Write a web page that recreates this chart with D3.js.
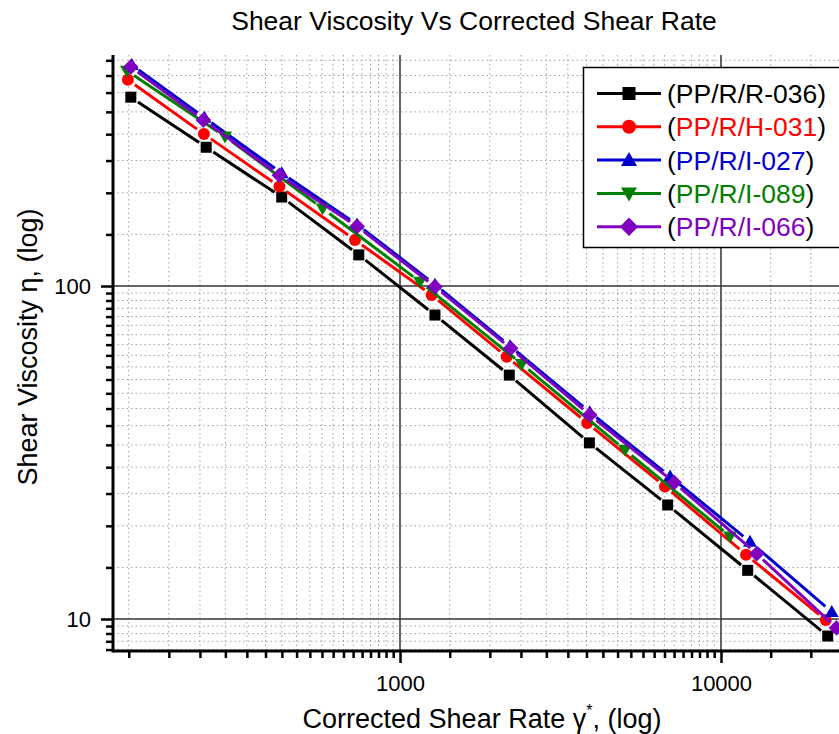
<!DOCTYPE html>
<html>
<head>
<meta charset="utf-8">
<script src="https://cdn.jsdelivr.net/npm/d3@7"></script>
<style>
  html, body { margin: 0; padding: 0; background: #fff; }
  svg { display: block; font-family: "Liberation Sans", Arial, sans-serif; }
</style>
</head>
<body>
<svg id="chart" width="839" height="734"></svg>
<script>
// ---------------- DATA ----------------
const seriesNames = ["PP/R/R-036", "PP/R/H-031", "PP/R/I-027", "PP/R/I-089", "PP/R/I-066"];
const seriesColors = ["#000000", "#ff0000", "#0000cc", "#008000", "#7f00c0"];
const seriesSymbols = ["square", "circle", "triangleUp", "triangleDown", "diamond"];

const xR036 = [145, 249, 428, 744, 1285, 2190, 3890, 6820, 12110, 21500];
const yR036 = [369, 261, 185, 124, 81.8, 54.0, 33.8, 22.0, 14.0, 8.89];

const xH031 = [142, 245, 421, 724, 1255, 2150, 3830, 6690, 11970, 21200];
const yH031 = [416, 286, 199, 137.5, 94.0, 61.3, 38.8, 25.0, 15.6, 9.93];

const xI027 = [146, 246, 428, 735, 1285, 2200, 3900, 6940, 12310, 22130];
const yI027 = [461, 320, 218, 153, 101, 66.0, 41.8, 26.8, 17.06, 10.5];

const xI089 = [141, 285, 574, 1154, 2394, 5023, 10670];
const yI089 = [443, 281, 171, 103, 58.3, 32.2, 17.7];

const xI066 = [145, 244, 421, 735, 1285, 2212, 3900, 7150, 12920, 22900];
const yI066 = [455, 315, 215, 151, 99.5, 65.0, 41.0, 25.7, 15.7, 9.4];

const xMajorTicks = [1000, 10000];
const yMajorTicks = [10, 100];
const minorSteps = d3.range(3, 21); // minor ticks at k/21 of the next decade

const xDomain = [127.6, 25230];
const yDomain = [8.015, 494];

const titleText = "Shear Viscosity Vs Corrected Shear Rate";
// ---------------------------------------

const seriesX = [xR036, xH031, xI027, xI089, xI066];
const seriesY = [yR036, yH031, yI027, yI089, yI066];

const svg = d3.select("#chart");
const L = 113, R = 850, T = 55, B = 651;

const x = d3.scaleLog().domain(xDomain).range([L, R]);
const y = d3.scaleLog().domain(yDomain).range([B, T]);

function minorTicks(domain) {
  const out = [];
  const lo = Math.floor(Math.log10(domain[0])), hi = Math.ceil(Math.log10(domain[1]));
  for (let n = lo; n <= hi; n++) {
    const top = Math.pow(10, n + 1);
    minorSteps.forEach(k => {
      const v = top * k / 21;
      if (v > domain[0] && v < domain[1]) out.push(v);
    });
  }
  return out;
}
const xMinor = minorTicks(xDomain);
const yMinor = minorTicks(yDomain);

svg.append("defs").append("clipPath").attr("id", "plotclip")
  .append("rect").attr("x", L).attr("y", T).attr("width", R - L).attr("height", B - T);

// grid
const grid = svg.append("g");
grid.selectAll(".vminor").data(xMinor).enter().append("line")
  .attr("x1", d => x(d)).attr("x2", d => x(d)).attr("y1", T).attr("y2", B)
  .attr("stroke", "#a0a0a0").attr("stroke-width", 1).attr("stroke-dasharray", "1.5,3");
grid.selectAll(".hminor").data(yMinor).enter().append("line")
  .attr("y1", d => y(d)).attr("y2", d => y(d)).attr("x1", L).attr("x2", R)
  .attr("stroke", "#a0a0a0").attr("stroke-width", 1).attr("stroke-dasharray", "1.5,3");
grid.selectAll(".vmajor").data(xMajorTicks).enter().append("line")
  .attr("x1", d => x(d)).attr("x2", d => x(d)).attr("y1", T).attr("y2", B)
  .attr("stroke", "#333").attr("stroke-width", 1.5);
grid.selectAll(".hmajor").data(yMajorTicks).enter().append("line")
  .attr("y1", d => y(d)).attr("y2", d => y(d)).attr("x1", L).attr("x2", R)
  .attr("stroke", "#333").attr("stroke-width", 1.5);

// axes
const xAxis = d3.axisBottom(x).tickValues(xMajorTicks).tickFormat(d3.format("d")).tickSize(12).tickPadding(12);
const xAxisMinor = d3.axisBottom(x).tickValues(xMinor).tickFormat("").tickSize(7);
const yAxis = d3.axisLeft(y).tickValues(yMajorTicks).tickFormat(d3.format("d")).tickSize(12).tickPadding(10);
const yAxisMinor = d3.axisLeft(y).tickValues(yMinor).tickFormat("").tickSize(7);

function styleAxis(g, fs) {
  g.select(".domain").remove();
  g.selectAll(".tick line").attr("stroke", "#000").attr("stroke-width", 2.5);
  g.selectAll(".tick text").attr("font-size", fs).attr("fill", "#000")
    .attr("font-family", '"Liberation Sans", Arial, sans-serif');
}
svg.append("g").attr("transform", `translate(0,${B})`).call(xAxisMinor).call(g => styleAxis(g, 0));
svg.append("g").attr("transform", `translate(0,${B})`).call(xAxis).call(g => styleAxis(g, 22));
svg.append("g").attr("transform", `translate(${L},0)`).call(yAxisMinor).call(g => styleAxis(g, 0));
svg.append("g").attr("transform", `translate(${L},0)`).call(yAxis).call(g => styleAxis(g, 22));

svg.append("line").attr("x1", L).attr("x2", R).attr("y1", B).attr("y2", B)
  .attr("stroke", "#000").attr("stroke-width", 3);
svg.append("line").attr("x1", L).attr("x2", L).attr("y1", T).attr("y2", B + 1.5)
  .attr("stroke", "#000").attr("stroke-width", 3);

function symbolPath(type, cx, cy, s) {
  switch (type) {
    case "square": return `M${cx - s},${cy - s}H${cx + s}V${cy + s}H${cx - s}Z`;
    case "circle": return `M${cx - s},${cy}A${s},${s} 0 1,0 ${cx + s},${cy}A${s},${s} 0 1,0 ${cx - s},${cy}Z`;
    case "triangleUp": return `M${cx},${cy - s * 1.1}L${cx + s * 1.1},${cy + s * 0.8}L${cx - s * 1.1},${cy + s * 0.8}Z`;
    case "triangleDown": return `M${cx},${cy + s * 1.1}L${cx + s * 1.1},${cy - s * 0.8}L${cx - s * 1.1},${cy - s * 0.8}Z`;
    case "diamond": return `M${cx},${cy - s * 1.35}L${cx + s * 1.35},${cy}L${cx},${cy + s * 1.35}L${cx - s * 1.35},${cy}Z`;
  }
}
const symSize = { square: 5.5, circle: 6, triangleUp: 6.3, triangleDown: 6.3, diamond: 5.8 };

// series
const plot = svg.append("g").attr("clip-path", "url(#plotclip)");
const gap = 8.5;
seriesNames.forEach((name, i) => {
  const pts = seriesX[i].map((xv, j) => [x(xv), y(seriesY[i][j])]);
  const g = plot.append("g");
  const segs = d3.pairs(pts).map(([a, b]) => {
    const dx = b[0] - a[0], dy = b[1] - a[1], len = Math.hypot(dx, dy);
    const ux = dx / len, uy = dy / len;
    return [a[0] + ux * gap, a[1] + uy * gap, b[0] - ux * gap, b[1] - uy * gap];
  });
  g.selectAll("line").data(segs).enter().append("line")
    .attr("x1", d => d[0]).attr("y1", d => d[1]).attr("x2", d => d[2]).attr("y2", d => d[3])
    .attr("stroke", seriesColors[i]).attr("stroke-width", 3);
  g.selectAll("path").data(pts).enter().append("path")
    .attr("d", d => symbolPath(seriesSymbols[i], d[0], d[1], symSize[seriesSymbols[i]]))
    .attr("fill", seriesColors[i]);
});

// legend
const lg = svg.append("g");
lg.append("rect").attr("x", 583.5).attr("y", 67.5).attr("width", 280).attr("height", 180)
  .attr("fill", "#fff").attr("stroke", "#000").attr("stroke-width", 1.5);
seriesNames.forEach((name, i) => {
  const cy = 93.5 + i * 33.3;
  lg.append("line").attr("x1", 597).attr("x2", 661).attr("y1", cy).attr("y2", cy)
    .attr("stroke", seriesColors[i]).attr("stroke-width", 3);
  lg.append("path").attr("d", symbolPath(seriesSymbols[i], 629, cy, symSize[seriesSymbols[i]] + 1))
    .attr("fill", seriesColors[i]);
  const t = lg.append("text").attr("x", 667).attr("y", cy + 9.5).attr("font-size", 26.5);
  t.append("tspan").attr("fill", "#000").text("(");
  t.append("tspan").attr("fill", seriesColors[i]).text(name);
  t.append("tspan").attr("fill", "#000").text(")");
});

// titles
svg.append("text").attr("x", 474).attr("y", 30).attr("text-anchor", "middle")
  .attr("font-size", 26.5).attr("fill", "#000").text(titleText);

const xt = svg.append("text").attr("x", 482).attr("y", 728).attr("text-anchor", "middle")
  .attr("font-size", 27).attr("fill", "#000");
xt.append("tspan").text("Corrected Shear Rate \u03b3");
xt.append("tspan").attr("dy", -12).attr("font-size", 16).text("*");
xt.append("tspan").attr("dy", 12).text(", (log)");

svg.append("text").attr("transform", "translate(37,347) rotate(-90)").attr("text-anchor", "middle")
  .attr("font-size", 27).attr("fill", "#000").text("Shear Viscosity \u03b7, (log)");
</script>
</body>
</html>
